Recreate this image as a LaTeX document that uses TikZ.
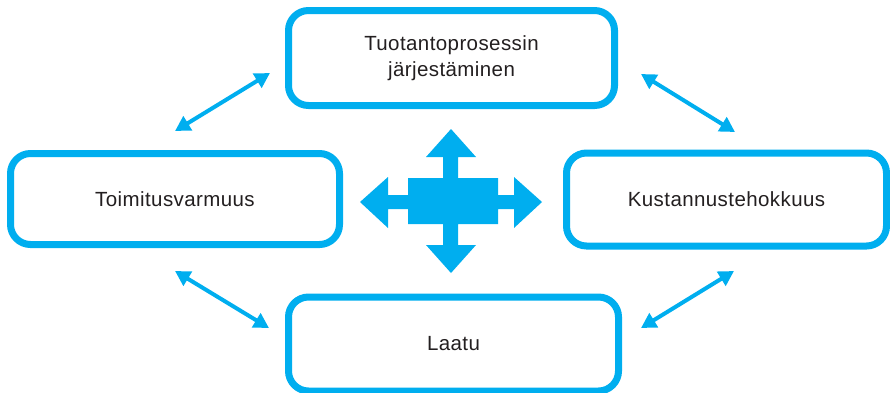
\documentclass[tikz,border=0pt]{standalone}
\usepackage{fontspec}
\setmainfont{Liberation Sans}
\usetikzlibrary{arrows.meta}
\definecolor{cyanblue}{HTML}{00AEEF}
\definecolor{darktext}{HTML}{231F20}
\begin{document}
\begin{tikzpicture}[x=1pt,y=-1pt,
  goalbox/.style={draw=cyanblue, line width=7pt, rounded corners=20pt, fill=white,
    minimum width=#1, inner sep=0pt, align=center, text=darktext,
    font=\fontsize{20.5}{25.5}\selectfont\addfontfeature{LetterSpace=2}},
  link/.style={draw=cyanblue, line width=4pt,
    {Triangle[length=15pt,width=16pt]}-{Triangle[length=15pt,width=16pt]}}]
\useasboundingbox (0,0) rectangle (890,392);

% the four goals
\node[goalbox=326pt, minimum height=95pt] (prod) at (451.5,58) {Tuotantoprosessin\\järjestäminen};
\node[goalbox=329pt, minimum height=91pt] (deliv) at (175,199) {Toimitusvarmuus};
\node[goalbox=320pt, minimum height=93pt] (cost) at (726.5,199.5) {Kustannustehokkuus};
\node[goalbox=330pt, minimum height=94pt] (qual) at (453.5,344) {Laatu};

% end points of the two-way links
\coordinate (tlA) at (175,131);
\coordinate (tlB) at (270,73);
\coordinate (trA) at (641,74);
\coordinate (trB) at (735,132);
\coordinate (blA) at (175,271);
\coordinate (blB) at (269,328);
\coordinate (brA) at (641,328);
\coordinate (brB) at (734,271);

\draw[link] (tlA) -- (tlB);
\draw[link] (trA) -- (trB);
\draw[link] (blA) -- (blB);
\draw[link] (brA) -- (brB);

% four-way arrow in the middle
\fill[cyanblue] (451,129) -- (476,157) -- (458,157) -- (458,178) -- (498,178)
  -- (498,195) -- (514,195) -- (514,177) -- (542,202) -- (514,228) -- (514,209)
  -- (498,209) -- (498,224) -- (458,224) -- (458,245) -- (476,245) -- (451,273)
  -- (426,245) -- (443,245) -- (443,224) -- (408,224) -- (408,209) -- (388,209)
  -- (388,228) -- (360,202) -- (388,177) -- (388,195) -- (408,195) -- (408,178)
  -- (443,178) -- (443,157) -- (426,157) -- cycle;
\end{tikzpicture}
\end{document}
